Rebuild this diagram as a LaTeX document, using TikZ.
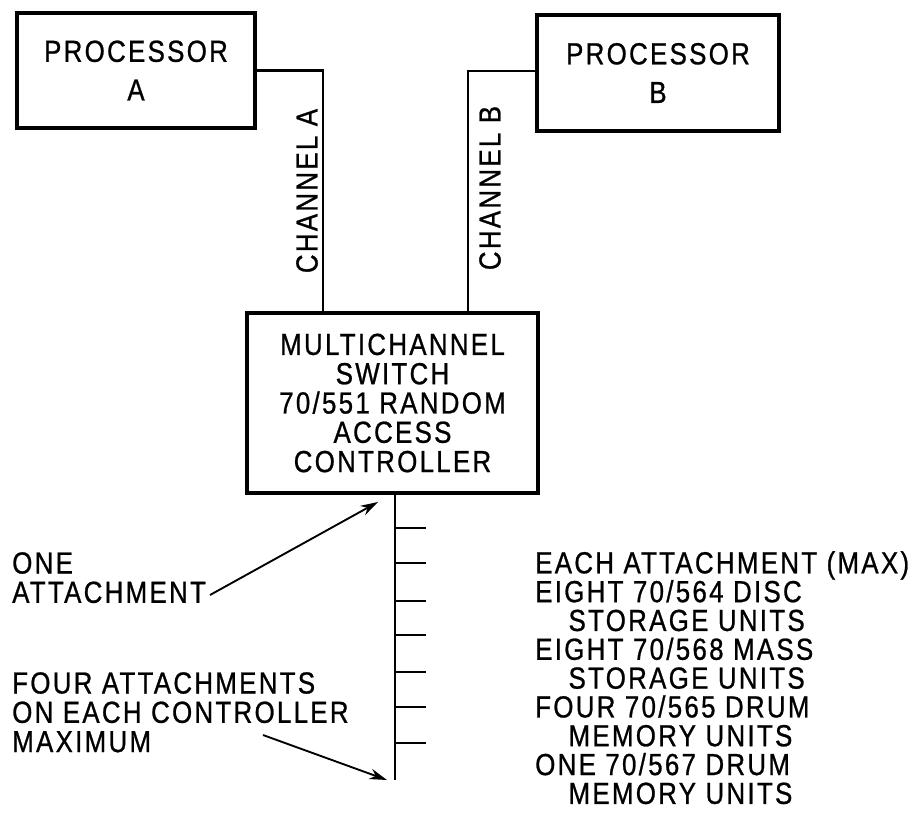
\documentclass[tikz,border=0pt]{standalone}
\usepackage{fontspec}
\setmainfont{Liberation Sans}[FakeStretch=0.85,LetterSpace=7.5,FakeBold=0.8]
\usetikzlibrary{arrows.meta, positioning, calc}

\begin{document}
\begin{tikzpicture}[
  x=0.03cm, y=-0.03cm,
  font=\fontsize{26}{25}\selectfont,
  box/.style={draw, line width=3pt, inner sep=0pt, align=center},
  link/.style={line width=2.5pt},
  lbl/.style={inner sep=0pt, align=left, anchor=north west},
  arr/.style={-{Stealth[length=15pt, width=9pt]}, line width=1.6pt}
]
  \useasboundingbox (0,0) rectangle (922,814);

  % processors and controller
  \node[box, minimum width=7.14cm, minimum height=3.45cm] (procA) at (136,70.5) {PROCESSOR\\[8pt]A};
  \node[box, minimum width=7.26cm, minimum height=3.48cm] (procB) at (658,73) {PROCESSOR\\[8pt]B};
  \node[box, minimum width=8.73cm, minimum height=5.4cm] (ctrl) at (392.5,403)
    {MULTICHANNEL\\SWITCH\\70/551 RANDOM\\ACCESS\\CONTROLLER};

  % channels
  \coordinate (chA) at (323,313);
  \coordinate (chB) at (468,313);
  \draw[link] (procA.east) -| (chA);
  \draw[link] ([yshift=0.06cm]procB.west) -| (chB);
  \node[rotate=90, inner sep=0pt] (chAlbl) at (307,191) {CHANNEL A};
  \node[rotate=90, inner sep=0pt] (chBlbl) at (490,188) {CHANNEL B};

  % attachment bus
  \coordinate (busEnd) at (395,780);
  \draw[link] (ctrl.south -| busEnd) -- (busEnd);
  \foreach \ty in {528,563,601,635,672,707,743}
    \draw[link] (395,\ty) -- (426,\ty);

  % notes
  \node[lbl] (oneatt) at (12,552) {ONE\\ATTACHMENT};
  \node[lbl] (fouratt) at (12,672) {FOUR ATTACHMENTS\\ON EACH CONTROLLER\\MAXIMUM};
  \node[lbl, font=\fontsize{26}{24.6}\selectfont] (units) at (535,551) {EACH ATTACHMENT (MAX)\\EIGHT 70/564 DISC\\
    \hspace*{1cm}STORAGE UNITS\\EIGHT 70/568 MASS\\\hspace*{1cm}STORAGE UNITS\\
    FOUR 70/565 DRUM\\\hspace*{1cm}MEMORY UNITS\\ONE 70/567 DRUM\\\hspace*{1cm}MEMORY UNITS};

  \coordinate (oneTail) at (210,595);
  \coordinate (oneTip) at (378,502);
  \coordinate (fourTail) at (263,735);
  \coordinate (fourTip) at (387,780);
  \draw[arr] (oneTail) -- (oneTip);
  \draw[arr] (fourTail) -- (fourTip);
\end{tikzpicture}
\end{document}
